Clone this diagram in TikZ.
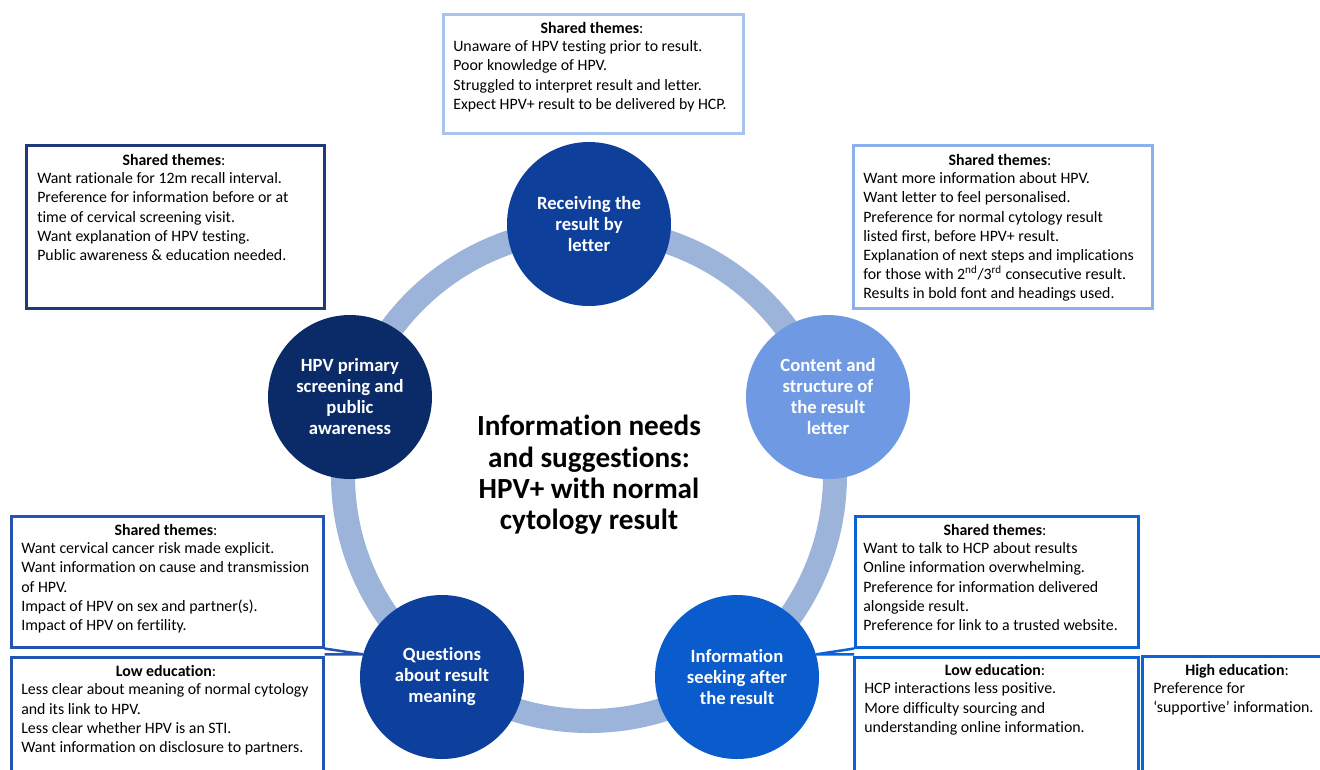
\documentclass[tikz,border=0pt]{standalone}
\usepackage{fontspec}
\setmainfont{Carlito}[Ligatures={TeX,NoCommon}]
\usetikzlibrary{positioning}

\definecolor{ringblue}{HTML}{9CB3DA}
\definecolor{recblue}{HTML}{0E409B}
\definecolor{conblue}{HTML}{6F9AE3}
\definecolor{seekblue}{HTML}{0A5BCC}
\definecolor{meanblue}{HTML}{0D409D}
\definecolor{hpvblue}{HTML}{0A2B68}
\definecolor{recline}{HTML}{A9C2EE}
\definecolor{hpvline}{HTML}{1F3A78}
\definecolor{conline}{HTML}{8DB0EC}
\definecolor{meanline}{HTML}{2453B2}
\definecolor{seekline}{HTML}{0B63D8}

\newcommand{\pxu}{0.75pt}

\tikzset{
  topic/.style={circle, minimum size=164*\pxu, inner sep=0pt, text=white,
    align=center, font=\bfseries\fontsize{14}{15.75}\selectfont},
  themebox/.style={rectangle, draw, line width=1.9pt, anchor=north west, inner sep=0pt},
  themehead/.style={inner sep=0pt, text depth=0pt, font=\fontsize{11.9}{14.4}\selectfont},
  themetext/.style={anchor=north west, inner sep=0pt, align=left,
    font=\fontsize{11.9}{14.4}\selectfont},
  title/.style={align=center, font=\bfseries\fontsize{21.9}{23.6}\selectfont}
}

\begin{document}
\begin{tikzpicture}[x=0.75pt, y=-0.75pt]

  \clip (0,0) rectangle (1320,769);

  % Draw the ring
  \coordinate (O) at (589,475);
  \draw[ringblue, line width=18pt] (O) circle (246);

  % Title in the middle
  \node[title] (title) at (O) {Information needs\\and suggestions:\\HPV+ with normal\\cytology result};

  % Topic circles
  \node[topic, fill=recblue] (rec) at (589,224) {Receiving the\\result by\\letter};
  \node[topic, fill=conblue] (con) at (828,397) {Content and\\structure of\\the result\\letter};
  \node[topic, fill=seekblue] (seek) at (737,677) {Information\\seeking after\\the result};
  \node[topic, fill=meanblue] (mean) at (442,677) {Questions\\about result\\meaning};
  \node[topic, fill=hpvblue] (hpv) at (350,397) {HPV primary\\screening and\\public\\awareness};

  % Boxes
  \node[themebox, draw=recline, minimum width=300*\pxu, minimum height=119*\pxu] (recbox) at (442,13) {};
  \node[themebox, draw=hpvline, minimum width=298*\pxu, minimum height=163*\pxu] (hpvbox) at (25,144) {};
  \node[themebox, draw=conline, minimum width=299*\pxu, minimum height=163*\pxu] (conbox) at (852,144) {};
  \node[themebox, draw=meanline, minimum width=312*\pxu, minimum height=131*\pxu] (meanbox) at (10,515) {};
  \node[themebox, draw=meanline, minimum width=312*\pxu, minimum height=130*\pxu] (meanlow) at (10,656) {};
  \node[themebox, draw=seekline, minimum width=283*\pxu, minimum height=131*\pxu] (seekbox) at (854,515) {};
  \node[themebox, draw=seekline, minimum width=284*\pxu, minimum height=130*\pxu] (seeklow) at (853,656) {};
  \node[themebox, draw=seekline, minimum width=200*\pxu, minimum height=130*\pxu] (seekhigh) at (1141,655) {};

  % Pointers from boxes to circles
  \draw[meanline, line width=1.9pt] (meanbox.south east) -- (mean.164) -- (meanbox.south east |- mean.164);
  \draw[seekline, line width=1.9pt] (seekbox.south west) -- (seek.16) -- (seekbox.south west |- seek.16);

  % Box headings
  \node[themehead] (rechead) at (592,28) {\textbf{Shared themes}:};
  \node[themehead] (hpvhead) at (174,160) {\textbf{Shared themes}:};
  \node[themehead] (conhead) at (1000,160) {\textbf{Shared themes}:};
  \node[themehead] (meanhead) at (166,530) {\textbf{Shared themes}:};
  \node[themehead] (meanlowhead) at (166,671) {\textbf{Low education}:};
  \node[themehead] (seekhead) at (995,530) {\textbf{Shared themes}:};
  \node[themehead] (seeklowhead) at (995,670) {\textbf{Low education}:};
  \node[themehead] (seekhighhead) at (1237,670) {\textbf{High education}:};

  % Box texts
  \node[themetext] (rectext) at (453,40.5) {Unaware of HPV testing prior to result.\\
    Poor knowledge of HPV.\\
    Struggled to interpret result and letter.\\
    Expect HPV+ result to be delivered by HCP.};
  \node[themetext] (hpvtext) at (37,172.5) {Want rationale for 12m recall interval.\\
    Preference for information before or at\\
    time of cervical screening visit.\\
    Want explanation of HPV testing.\\
    Public awareness \& education needed.};
  \node[themetext] (context) at (863,172.5) {Want more information about HPV.\\
    Want letter to feel personalised.\\
    Preference for normal cytology result\\
    listed first, before HPV+ result.\\
    Explanation of next steps and implications\\
    for those with 2\textsuperscript{nd}/3\textsuperscript{rd} consecutive result.\\
    Results in bold font and headings used.};
  \node[themetext] (meantext) at (21,542.5) {Want cervical cancer risk made explicit.\\
    Want information on cause and transmission\\
    of HPV.\\
    Impact of HPV on sex and partner(s).\\
    Impact of HPV on fertility.};
  \node[themetext] (meanlowtext) at (21,683.5) {Less clear about meaning of normal cytology\\
    and its link to HPV.\\
    Less clear whether HPV is an STI.\\
    Want information on disclosure to partners.};
  \node[themetext] (seektext) at (863,542.5) {Want to talk to HCP about results\\
    Online information overwhelming.\\
    Preference for information delivered\\
    alongside result.\\
    Preference for link to a trusted website.};
  \node[themetext] (seeklowtext) at (864,682.5) {HCP interactions less positive.\\
    More difficulty sourcing and\\
    understanding online information.};
  \node[themetext] (seekhightext) at (1153,682.5) {Preference for\\
    ‘supportive’ information.};

\end{tikzpicture}
\end{document}
